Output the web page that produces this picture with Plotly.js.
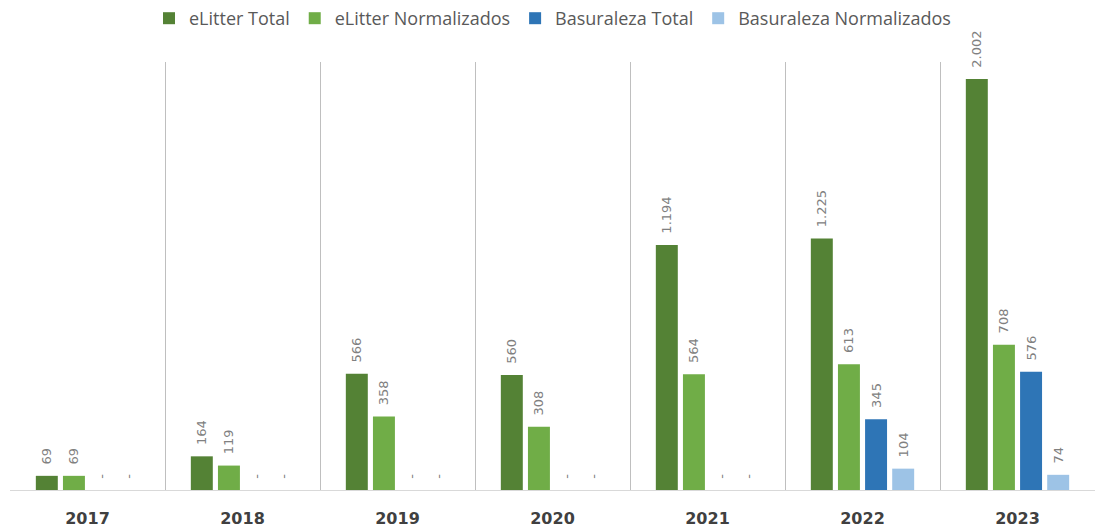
<!DOCTYPE html>
<html>
<head>
<meta charset="utf-8">
<script src="https://cdn.plot.ly/plotly-3.0.1.min.js"></script>
<style>html,body{margin:0;padding:0;background:#fff;}#chart{width:1095px;height:527px;}</style>
</head>
<body>
<div id="chart"></div>
<script>
var years = ["2017", "2018", "2019", "2020", "2021", "2022", "2023"];
var seriesNames = ["eLitter Total", "eLitter Normalizados", "Basuraleza Total", "Basuraleza Normalizados"];
var eLitterTotal = [69, 164, 566, 560, 1194, 1225, 2002];
var eLitterNormalizados = [69, 119, 358, 308, 564, 613, 708];
var basuralezaTotal = [0, 0, 0, 0, 0, 345, 576];
var basuralezaNormalizados = [0, 0, 0, 0, 0, 104, 74];
var colors = ["#548235", "#70AD47", "#2E75B6", "#9DC3E6"];

function fmt(v) {
  var pad = "\u00a0\u00a0";
  if (v === 0) return pad + "-";
  var s = String(v);
  return pad + s.replace(/\B(?=(\d{3})+(?!\d))/g, ".");
}

var allSeries = [eLitterTotal, eLitterNormalizados, basuralezaTotal, basuralezaNormalizados];
var traces = allSeries.map(function (vals, i) {
  return {
    type: "bar",
    name: seriesNames[i],
    x: years,
    y: vals,
    text: vals.map(fmt),
    textposition: "outside",
    textangle: -90,
    constraintext: "none",
    cliponaxis: false,
    textfont: {family: "DejaVu Sans, sans-serif", size: 13, color: "#808080"},
    marker: {color: colors[i]},
    hoverinfo: "x+y+name"
  };
});

var layout = {
  width: 1095,
  height: 527,
  margin: {l: 10, r: 0, t: 62, b: 37},
  paper_bgcolor: "#ffffff",
  plot_bgcolor: "#ffffff",
  barmode: "group",
  bargap: 0.30,
  bargroupgap: 0.19,
  showlegend: true,
  legend: {
    orientation: "h",
    x: 0.5, xanchor: "center",
    y: 1, yref: "container", yanchor: "top",
    font: {family: "'Open Sans', sans-serif", size: 18, color: "#595959"},
    itemwidth: 30,
    traceorder: "normal"
  },
  xaxis: {
    type: "category",
    range: [-0.5, 6.5],
    tickson: "boundaries",
    showgrid: true,
    gridcolor: "#bfbfbf",
    gridwidth: 1,
    showline: true,
    linecolor: "#d9d9d9",
    linewidth: 1,
    ticks: "",
    ticklabelstandoff: 14,
    tickfont: {family: "DejaVu Sans, sans-serif", size: 16, color: "#404040", weight: "bold"},
    fixedrange: true
  },
  yaxis: {
    visible: false,
    range: [0, 2085],
    showgrid: false,
    zeroline: false,
    fixedrange: true
  }
};

Plotly.newPlot("chart", traces, layout, {displayModeBar: false, staticPlot: true});
</script>
</body>
</html>
